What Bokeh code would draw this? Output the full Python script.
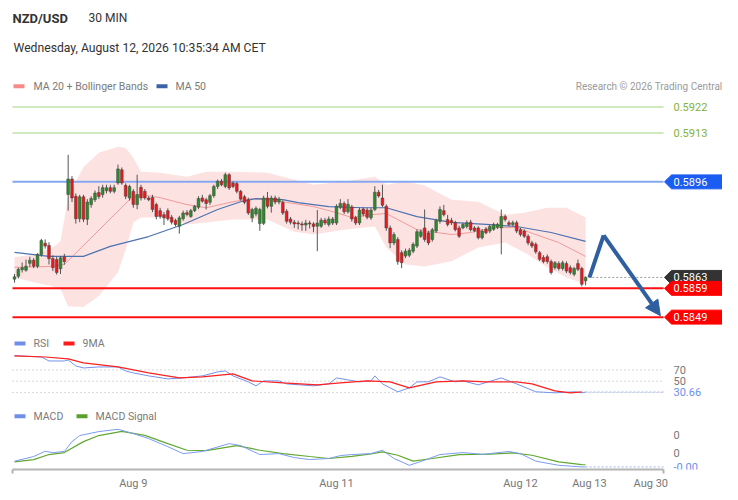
from bokeh.plotting import figure
from bokeh.models import Range1d, Label, FixedTicker, Arrow, NormalHead
from bokeh.embed import file_html
from bokeh.resources import INLINE

# ---------------- data ----------------
opens = [0.58622, 0.58632, 0.58655, 0.58653, 0.58677, 0.58688, 0.58667, 0.58708, 0.58747, 0.58739,
         0.58694, 0.58690, 0.58658, 0.58699, 0.58916, 0.58970, 0.58910, 0.58832, 0.58908, 0.58830,
         0.58881, 0.58898, 0.58923, 0.58916, 0.58929, 0.58940, 0.58927, 0.58956, 0.59002, 0.58948,
         0.58904, 0.58927, 0.58881, 0.58941, 0.58927, 0.58904, 0.58906, 0.58881, 0.58860, 0.58846,
         0.58860, 0.58837, 0.58826, 0.58806, 0.58832, 0.58853, 0.58840, 0.58860, 0.58872, 0.58904,
         0.58898, 0.58889, 0.58912, 0.58944, 0.58962, 0.58944, 0.58985, 0.58956, 0.58954, 0.58927,
         0.58908, 0.58898, 0.58835, 0.58848, 0.58815, 0.58816, 0.58904, 0.58875, 0.58904, 0.58890,
         0.58889, 0.58858, 0.58831, 0.58820, 0.58817, 0.58814, 0.58810, 0.58817, 0.58814, 0.58806,
         0.58806, 0.58827, 0.58812, 0.58817, 0.58817, 0.58872, 0.58885, 0.58856, 0.58873, 0.58836,
         0.58817, 0.58866, 0.58862, 0.58835, 0.58864, 0.58924, 0.58904, 0.58875, 0.58800, 0.58748,
         0.58760, 0.58714, 0.58702, 0.58705, 0.58719, 0.58737, 0.58771, 0.58800, 0.58783, 0.58760,
         0.58789, 0.58823, 0.58860, 0.58829, 0.58826, 0.58818, 0.58800, 0.58800, 0.58805, 0.58820,
         0.58800, 0.58800, 0.58766, 0.58796, 0.58789, 0.58795, 0.58802, 0.58800, 0.58840, 0.58818,
         0.58812, 0.58818, 0.58794, 0.58789, 0.58771, 0.58748, 0.58743, 0.58714, 0.58697, 0.58700,
         0.58683, 0.58662, 0.58676, 0.58659, 0.58676, 0.58662, 0.58639, 0.58676, 0.58659, 0.58616]
highs = [0.58640, 0.58662, 0.58680, 0.58690, 0.58700, 0.58695, 0.58712, 0.58762, 0.58760, 0.58750,
         0.58705, 0.58700, 0.58702, 0.58710, 0.59054, 0.58980, 0.58920, 0.58915, 0.58915, 0.58900,
         0.58910, 0.58930, 0.58945, 0.58950, 0.58950, 0.58950, 0.58950, 0.59020, 0.59010, 0.58955,
         0.58950, 0.58935, 0.58985, 0.58950, 0.58935, 0.58910, 0.58915, 0.58888, 0.58870, 0.58855,
         0.58868, 0.58845, 0.58832, 0.58842, 0.58860, 0.58862, 0.58866, 0.58880, 0.58910, 0.58915,
         0.58905, 0.58918, 0.58950, 0.58968, 0.58970, 0.58992, 0.58990, 0.58962, 0.58960, 0.58932,
         0.58915, 0.58905, 0.58870, 0.58875, 0.58870, 0.58912, 0.58925, 0.58912, 0.58912, 0.58908,
         0.58896, 0.58865, 0.58838, 0.58828, 0.58825, 0.58822, 0.58828, 0.58825, 0.58820, 0.58862,
         0.58835, 0.58835, 0.58840, 0.58838, 0.58882, 0.58900, 0.58892, 0.58900, 0.58880, 0.58842,
         0.58870, 0.58872, 0.58870, 0.58870, 0.58945, 0.58932, 0.58950, 0.58882, 0.58808, 0.58785,
         0.58768, 0.58722, 0.58728, 0.58730, 0.58750, 0.58795, 0.58795, 0.58864, 0.58790, 0.58800,
         0.58832, 0.58875, 0.58880, 0.58845, 0.58835, 0.58825, 0.58808, 0.58818, 0.58826, 0.58828,
         0.58806, 0.58806, 0.58796, 0.58803, 0.58812, 0.58818, 0.58818, 0.58864, 0.58847, 0.58825,
         0.58825, 0.58825, 0.58800, 0.58795, 0.58778, 0.58755, 0.58750, 0.58720, 0.58705, 0.58708,
         0.58690, 0.58685, 0.58684, 0.58686, 0.58684, 0.58670, 0.58665, 0.58690, 0.58665, 0.58632]
lows = [0.58610, 0.58625, 0.58645, 0.58648, 0.58665, 0.58660, 0.58660, 0.58700, 0.58728, 0.58673,
        0.58650, 0.58638, 0.58640, 0.58672, 0.58860, 0.58890, 0.58815, 0.58820, 0.58820, 0.58810,
        0.58870, 0.58890, 0.58900, 0.58905, 0.58920, 0.58920, 0.58920, 0.58950, 0.58950, 0.58900,
        0.58895, 0.58870, 0.58865, 0.58895, 0.58898, 0.58893, 0.58855, 0.58830, 0.58832, 0.58810,
        0.58825, 0.58812, 0.58805, 0.58780, 0.58825, 0.58840, 0.58835, 0.58855, 0.58865, 0.58888,
        0.58864, 0.58880, 0.58905, 0.58935, 0.58945, 0.58938, 0.58932, 0.58938, 0.58920, 0.58895,
        0.58882, 0.58845, 0.58820, 0.58840, 0.58790, 0.58810, 0.58868, 0.58853, 0.58882, 0.58882,
        0.58845, 0.58815, 0.58812, 0.58800, 0.58795, 0.58790, 0.58790, 0.58798, 0.58785, 0.58719,
        0.58800, 0.58810, 0.58805, 0.58810, 0.58810, 0.58865, 0.58848, 0.58850, 0.58822, 0.58810,
        0.58810, 0.58840, 0.58830, 0.58828, 0.58858, 0.58905, 0.58872, 0.58790, 0.58730, 0.58740,
        0.58672, 0.58660, 0.58695, 0.58698, 0.58712, 0.58730, 0.58765, 0.58752, 0.58740, 0.58752,
        0.58782, 0.58815, 0.58840, 0.58805, 0.58810, 0.58788, 0.58765, 0.58795, 0.58798, 0.58788,
        0.58785, 0.58760, 0.58760, 0.58778, 0.58782, 0.58790, 0.58796, 0.58708, 0.58822, 0.58805,
        0.58805, 0.58782, 0.58770, 0.58765, 0.58740, 0.58730, 0.58710, 0.58685, 0.58677, 0.58676,
        0.58638, 0.58655, 0.58652, 0.58652, 0.58643, 0.58638, 0.58632, 0.58650, 0.58597, 0.58600]
closes = [0.58630, 0.58656, 0.58662, 0.58667, 0.58688, 0.58667, 0.58708, 0.58756, 0.58737, 0.58693,
          0.58662, 0.58645, 0.58696, 0.58683, 0.58970, 0.58904, 0.58832, 0.58908, 0.58830, 0.58890,
          0.58902, 0.58921, 0.58909, 0.58940, 0.58940, 0.58927, 0.58940, 0.59005, 0.58956, 0.58910,
          0.58944, 0.58881, 0.58916, 0.58904, 0.58904, 0.58898, 0.58864, 0.58840, 0.58840, 0.58835,
          0.58832, 0.58820, 0.58812, 0.58835, 0.58852, 0.58847, 0.58860, 0.58875, 0.58902, 0.58893,
          0.58885, 0.58912, 0.58944, 0.58962, 0.58950, 0.58985, 0.58939, 0.58944, 0.58927, 0.58900,
          0.58889, 0.58852, 0.58864, 0.58868, 0.58864, 0.58904, 0.58875, 0.58904, 0.58890, 0.58900,
          0.58852, 0.58823, 0.58820, 0.58814, 0.58814, 0.58810, 0.58817, 0.58814, 0.58805, 0.58817,
          0.58827, 0.58817, 0.58831, 0.58831, 0.58875, 0.58885, 0.58856, 0.58882, 0.58831, 0.58817,
          0.58862, 0.58848, 0.58837, 0.58862, 0.58924, 0.58911, 0.58879, 0.58800, 0.58748, 0.58777,
          0.58683, 0.58679, 0.58719, 0.58722, 0.58743, 0.58787, 0.58787, 0.58760, 0.58748, 0.58794,
          0.58826, 0.58864, 0.58846, 0.58812, 0.58818, 0.58794, 0.58771, 0.58812, 0.58818, 0.58794,
          0.58790, 0.58766, 0.58789, 0.58783, 0.58805, 0.58812, 0.58812, 0.58840, 0.58829, 0.58812,
          0.58818, 0.58789, 0.58777, 0.58771, 0.58748, 0.58737, 0.58717, 0.58691, 0.58683, 0.58683,
          0.58645, 0.58679, 0.58659, 0.58679, 0.58650, 0.58645, 0.58659, 0.58656, 0.58604, 0.58628]

band_idx = [0, 5, 10, 12, 14, 18, 22, 27, 29, 31, 33, 38, 45, 50, 57, 66, 73, 78, 86, 94,
            97, 102, 107, 114, 121, 128, 133, 139, 144, 149]
band_upper = [0.58698, 0.58708, 0.58732, 0.58753, 0.58909, 0.59012, 0.59061, 0.59082, 0.59078, 0.59044,
              0.58995, 0.58992, 0.58978, 0.58995, 0.58995, 0.58992, 0.58967, 0.58950, 0.58961, 0.58978,
              0.58950, 0.58961, 0.58947, 0.58898, 0.58891, 0.58846, 0.58853, 0.58870, 0.58870, 0.58836]
band_lower = [0.58628, 0.58611, 0.58597, 0.58587, 0.58528, 0.58525, 0.58563, 0.58646, 0.58725, 0.58819,
              0.58836, 0.58836, 0.58812, 0.58819, 0.58829, 0.58829, 0.58787, 0.58777, 0.58794, 0.58805,
              0.58732, 0.58673, 0.58666, 0.58684, 0.58732, 0.58749, 0.58715, 0.58663, 0.58628, 0.58604]
ma20_idx = [0, 9, 13, 30, 33, 38, 45, 50, 57, 62, 70, 78, 84, 88, 93, 97, 105, 114, 119, 125, 131, 136, 142, 149]
ma20 = [0.58663, 0.58666, 0.58673, 0.58898, 0.58916, 0.58905, 0.58881, 0.58870, 0.58891, 0.58902,
        0.58891, 0.58874, 0.58853, 0.58836, 0.58846, 0.58850, 0.58794, 0.58777, 0.58784, 0.58801,
        0.58801, 0.58777, 0.58749, 0.58701]
ma50_idx = [0, 9, 18, 25, 35, 44, 53, 59, 63, 70, 74, 82, 91, 97, 105, 114, 123, 131, 140, 149]
ma50 = [0.58715, 0.58701, 0.58701, 0.58736, 0.58770, 0.58812, 0.58864, 0.58891, 0.58902, 0.58898,
        0.58888, 0.58874, 0.58870, 0.58870, 0.58839, 0.58819, 0.58812, 0.58805, 0.58784, 0.58753]

rsi_idx = [0, 7, 9, 13, 14, 16, 18, 22, 27, 29, 31, 35, 40, 44, 49, 53, 55, 57, 61, 63,
           65, 69, 71, 78, 82, 84, 87, 90, 93, 94, 96, 100, 103, 105, 108, 111, 115, 117, 121, 127,
           131, 136, 141, 146, 148, 149]
rsi = [95.3, 93.0, 85.9, 85.9, 87.7, 77.1, 73.5, 75.3, 75.3, 68.2, 64.7, 59.4, 54.1, 55.8, 59.4,
       66.5, 68.2, 59.4, 48.8, 41.7, 50.5, 50.5, 45.2, 41.7, 45.2, 55.8, 52.3, 48.8, 50.5, 59.4,
       45.2, 31.1, 38.1, 48.8, 48.8, 57.6, 48.8, 50.5, 43.5, 55.8, 45.2, 31.1, 29.3, 31.1, 29.3, 30.66]
ma9_idx = [0, 8, 14, 18, 27, 35, 43, 49, 57, 62, 70, 79, 85, 92, 98, 103, 110, 117, 123, 131, 135, 141, 145, 148]
ma9 = [94.8, 93.0, 89.5, 82.4, 75.3, 64.7, 55.8, 57.6, 62.9, 50.5, 47.0, 43.5, 47.0, 50.5, 48.8,
       38.1, 48.8, 50.5, 48.8, 48.8, 45.2, 32.8, 29.3, 31.1]
rsi_levels = [70, 50, 30]
rsi_level_labels = ["70", "50", ""]

macd_idx = [0, 5, 8, 10, 13, 15, 17, 22, 27, 31, 35, 40, 44, 49, 56, 59, 64, 69, 73, 77,
            82, 85, 88, 93, 96, 99, 103, 106, 111, 117, 122, 129, 132, 136, 142, 148, 149]
macd = [-0.000048, -0.000022, 0.000007, 0.0, 0.000006, 0.000061, 0.000095, 0.000117, 0.00013, 0.000106,
        0.000078, 0.000033, -0.000006, 0.000006, 0.00005, 0.000039, -0.000011, -0.000006, -0.000028, -0.000039,
        -0.000033, -0.000017, -0.000011, -0.000006, 0.000013, -0.000033, -0.000071, -0.00005, -0.000011, 0.0,
        -0.00001, 0.000006, -0.000006, -0.000048, -0.000071, -0.00008, -0.00008]
sig_idx = [0, 5, 9, 13, 18, 22, 28, 34, 40, 45, 50, 58, 64, 70, 77, 82, 88, 93, 96, 100,
           104, 109, 116, 124, 130, 135, 142, 148, 149]
signal = [-0.000052, -0.000039, -0.000011, 0.0, 0.000061, 0.000095, 0.000118, 0.000096, 0.00005, 0.000013,
          0.000011, 0.000039, 0.000013, -0.000006, -0.000022, -0.000033, -0.000021, -0.000007, 0.000004, -0.000015,
          -0.000048, -0.000033, -0.000011, -0.000009, -0.000002, -0.000015, -0.000052, -0.000067, -0.000068]
macd_ticks = [0.0001, 0.0]
macd_tick_labels = ["0", "0"]

resistances = [0.5922, 0.5913]
pivot = 0.5896
supports = [0.5859, 0.5849]
forecast_idx = [150, 153.7, 168.5]
forecast_price = [0.58628, 0.58774, 0.58495]

tick_idx = [31, 84, 132, 150, 166]
tick_labels = ["Aug 9", "Aug 11", "Aug 12", "Aug 13", "Aug 30"]

# ---------------- pixel helpers for layout ----------------
PX0, DX = 14.0, 3.833          # x of candle 0, pixels per candle
P_PER_PX = 0.0000346           # price per pixel
W, H, FRAME_B = 722, 492, 471


def ix(px):
    return (px - PX0) / DX


def pr(py):
    return 0.5922 - (py - 107) * P_PER_PX


def rs(py):
    return 70 - (py - 371) / 0.565


def mc(py):
    return (454 - py) / 18 * 0.0001


FONT = "Roboto"

p = figure(width=W, height=H, output_backend="svg", toolbar_location=None,
           x_range=Range1d(ix(0), ix(W)), y_range=Range1d(pr(FRAME_B), pr(0)),
           y_axis_location=None, min_border_left=0, min_border_right=0,
           min_border_top=0, min_border_bottom=H - FRAME_B)
p.outline_line_color = None
p.grid.visible = False
p.extra_y_ranges = {"rsi": Range1d(rs(FRAME_B), rs(0)), "macd": Range1d(mc(FRAME_B), mc(0))}

# x axis
ax = p.xaxis[0]
ax.ticker = FixedTicker(ticks=tick_idx, minor_ticks=[ix(12), ix(663)])
ax.major_label_overrides = {t: l for t, l in zip(tick_idx, tick_labels)}
ax.bounds = (ix(12), ix(663))
ax.axis_line_color = "#b4b4b4"
ax.axis_line_width = 2
ax.major_tick_line_color = None
ax.major_tick_out = 0
ax.major_tick_in = 0
ax.minor_tick_line_color = "#b4b4b4"
ax.minor_tick_line_width = 2
ax.minor_tick_out = 4
ax.minor_tick_in = 0
ax.major_label_standoff = 3
ax.major_label_text_color = "#777777"
ax.major_label_text_font = FONT
ax.major_label_text_font_size = "11px"

XL, XR = ix(12), ix(663)
n = len(closes)
idx = list(range(n))

# Bollinger band + moving averages
p.varea(x=band_idx, y1=band_lower, y2=band_upper, fill_color="#fde2e2", fill_alpha=1.0)
p.line(ma20_idx, ma20, line_color="#f29a9a", line_width=1)
p.line(ma50_idx, ma50, line_color="#4d72b0", line_width=1.2)

# level lines
for lv in resistances:
    p.segment(x0=[XL], y0=[lv], x1=[XR], y1=[lv], line_color="#c2e2a8", line_width=1.5)
    p.add_layout(Label(x=ix(673), y=lv, text=f"{lv:.4f}", text_baseline="middle",
                       text_color="#80b43c", text_font=FONT, text_font_size="11px"))
p.segment(x0=[XL], y0=[pivot], x1=[XR], y1=[pivot], line_color="#86a8f2", line_width=2)
for lv in supports:
    p.segment(x0=[XL], y0=[lv], x1=[XR], y1=[lv], line_color="#ff1010", line_width=2)

# candles
inc_color = "#2b8a2b"
dec_color = "#e8181c"
colors = [inc_color if c >= o else dec_color for o, c in zip(opens, closes)]
p.segment(x0=idx, y0=highs, x1=idx, y1=lows, line_color="#555555", line_width=1)
p.vbar(x=idx, width=0.72, top=[max(o, c) for o, c in zip(opens, closes)],
       bottom=[min(o, c) for o, c in zip(opens, closes)],
       fill_color=colors, line_color="#444444", line_width=0.5)

# current price dotted line
cur = closes[-1]
p.segment(x0=[n - 0.3], y0=[cur], x1=[ix(664)], y1=[cur], line_color="#9a9a9a",
          line_width=1, line_dash="2 2")


def tag(price, color, text_color="white"):
    h = 7 * P_PER_PX
    xs = [ix(664), ix(671), ix(740), ix(740), ix(671)]
    ys = [price, price + h, price + h, price - h, price - h]
    p.patch(xs, ys, fill_color=color, line_color=color)
    p.add_layout(Label(x=ix(673), y=price, text=f"{price:.4f}", text_baseline="middle",
                       text_color=text_color, text_font=FONT, text_font_size="11px"))


tag(pivot, "#1b5cf2")
tag(cur, "#333333")
for lv in supports:
    tag(lv, "#ff0000")

# forecast zig-zag
fc = "#2f5f9f"
p.line(forecast_idx[:2], forecast_price[:2], line_color=fc, line_width=4, line_join="round")
p.add_layout(Arrow(end=NormalHead(size=15, fill_color=fc, line_color=fc),
                   x_start=forecast_idx[1], y_start=forecast_price[1],
                   x_end=forecast_idx[2], y_end=forecast_price[2],
                   line_color=fc, line_width=4))

# RSI panel
for lv, lab in zip(rsi_levels, rsi_level_labels):
    p.segment(x0=[XL], y0=[lv], x1=[XR], y1=[lv], line_color="#b0b0b0", line_width=1,
              line_dash="1 3", y_range_name="rsi")
    if lab:
        p.add_layout(Label(x=ix(673), y=lv, y_range_name="rsi", text=lab, text_baseline="middle",
                           text_color="#777777", text_font=FONT, text_font_size="11px"))
p.segment(x0=[rsi_idx[-1]], y0=[rsi[-1]], x1=[XR], y1=[rsi[-1]], line_color="#9db4f2",
          line_width=1, line_dash="2 2", y_range_name="rsi")
p.add_layout(Label(x=ix(673), y=rsi[-1], y_range_name="rsi", text=f"{rsi[-1]:.2f}",
                   text_baseline="middle", text_color="#6b8ef0", text_font=FONT, text_font_size="11px"))
p.line(rsi_idx, rsi, line_color="#7393ea", line_width=1, y_range_name="rsi")
p.line(ma9_idx, ma9, line_color="#ff2020", line_width=1.2, y_range_name="rsi")

# MACD panel
for tv, lab in zip(macd_ticks, macd_tick_labels):
    p.add_layout(Label(x=ix(673), y=tv, y_range_name="macd", text=lab, text_baseline="middle",
                       text_color="#777777", text_font=FONT, text_font_size="11px"))
p.segment(x0=[macd_idx[-1]], y0=[macd[-1]], x1=[XR], y1=[macd[-1]], line_color="#9db4f2",
          line_width=1, line_dash="2 2", y_range_name="macd")
p.add_layout(Label(x=ix(673), y=macd[-1], y_range_name="macd", text=f"{macd[-1]:.2f}",
                   text_baseline="middle", text_color="#6b8ef0", text_font=FONT, text_font_size="11px"))
p.line(sig_idx, signal, line_color="#62a832", line_width=1.2, y_range_name="macd")
p.line(macd_idx, macd, line_color="#7c9cf0", line_width=1, y_range_name="macd")

# header texts
p.add_layout(Label(x=ix(12), y=pr(18), text="NZD/USD", text_baseline="middle",
                   text_color="#333333", text_font=FONT, text_font_size="13px",
                   text_font_style="bold"))
p.add_layout(Label(x=ix(88), y=pr(18), text="30 MIN", text_baseline="middle",
                   text_color="#333333", text_font=FONT, text_font_size="12px"))
p.add_layout(Label(x=ix(13), y=pr(48), text="Wednesday, August 12, 2026 10:35:34 AM CET",
                   text_baseline="middle", text_color="#333333", text_font=FONT,
                   text_font_size="12.2px"))
p.add_layout(Label(x=ix(722), y=pr(86), text="Research \u00a9 2026 Trading Central",
                   text_align="right", text_baseline="middle", text_color="#9a9a9a",
                   text_font=FONT, text_font_size="10px"))


def legend_item(x_sw, x_txt, py, color, text):
    p.segment(x0=[ix(x_sw)], y0=[pr(py)], x1=[ix(x_sw + 11)], y1=[pr(py)],
              line_color=color, line_width=4)
    p.add_layout(Label(x=ix(x_txt), y=pr(py), text=text, text_baseline="middle",
                       text_color="#7a7a7a", text_font=FONT, text_font_size="10.5px"))


legend_item(13, 33, 86, "#f88a8a", "MA 20 + Bollinger Bands")
legend_item(156, 175, 86, "#3a63a8", "MA 50")
legend_item(14, 33, 344.5, "#6f8fe8", "RSI")
legend_item(63, 82, 344.5, "#ff1a1a", "9MA")
legend_item(14, 33, 417.5, "#6f8fe8", "MACD")
legend_item(76, 95, 417.5, "#5aa02c", "MACD Signal")

open("out.html", "w").write(file_html(p, INLINE))
